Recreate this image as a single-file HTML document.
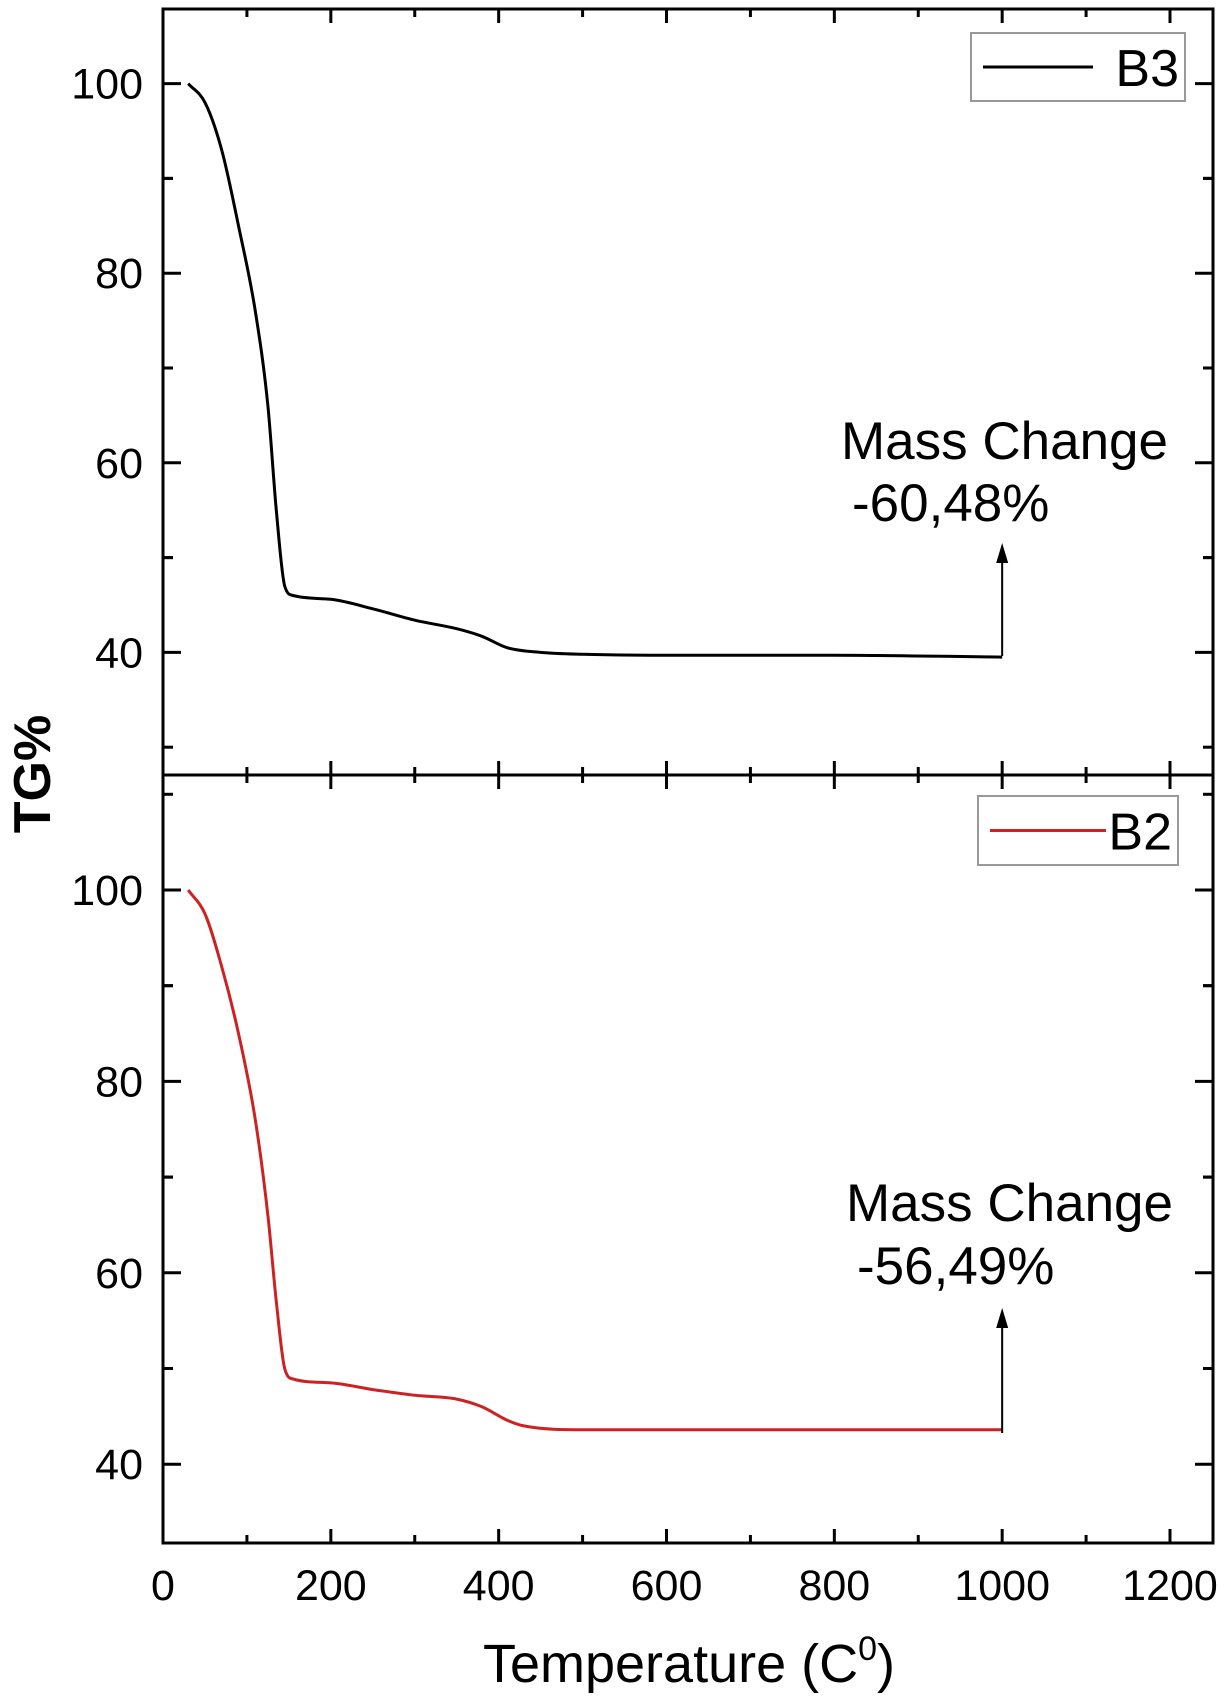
<!DOCTYPE html>
<html><head><meta charset="utf-8"><style>
html,body{margin:0;padding:0;background:#fff;}
svg{display:block;font-family:"Liberation Sans",Arial,sans-serif;}
</style></head><body>
<svg id="chart" width="1224" height="1703" viewBox="0 0 1224 1703" xmlns="http://www.w3.org/2000/svg">
<g id="g"></g>
</svg>
<script>
const xTicks = [0,200,400,600,800,1000,1200];
const yTicks = [40,60,80,100];
const b3Temp = [30,50,70,90,110,125,135,145,155,200,250,300,350,380,410,450,500,600,800,1000];
const b3TG   = [100,98,93,85,76,66,55,47,46,45.6,44.6,43.4,42.5,41.7,40.5,40,39.8,39.7,39.7,39.5];
const b2Temp = [30,50,70,90,110,125,135,145,155,200,250,300,350,380,410,430,500,1000];
const b2TG   = [100,97.5,92,85,76,66,57,50,48.9,48.5,47.8,47.2,46.8,46,44.6,44,43.6,43.6];
const annotTemp = [1000,1000];
const annotText = ["-60,48%","-56,49%"];

const NS="http://www.w3.org/2000/svg";
const g=document.getElementById('g');
function el(t,a,txt){const e=document.createElementNS(NS,t);for(const k in a)e.setAttribute(k,a[k]);if(txt!==undefined)e.textContent=txt;g.appendChild(e);return e;}
function smoothPath(px,py){
  const n=px.length,d=[],m=[];
  for(let i=0;i<n-1;i++)d.push((py[i+1]-py[i])/(px[i+1]-px[i]));
  m[0]=d[0];m[n-1]=d[n-2];
  for(let i=1;i<n-1;i++)m[i]=(d[i-1]*d[i]<=0)?0:(d[i-1]+d[i])/2;
  for(let i=0;i<n-1;i++){if(d[i]===0){m[i]=0;m[i+1]=0;continue;}
    const a=m[i]/d[i],b=m[i+1]/d[i],s=a*a+b*b;if(s>9){const t=3/Math.sqrt(s);m[i]=t*a*d[i];m[i+1]=t*b*d[i];}}
  let s='M'+px[0].toFixed(1)+','+py[0].toFixed(1);
  for(let i=0;i<n-1;i++){const h=(px[i+1]-px[i])/3;
    s+=` C${(px[i]+h).toFixed(1)},${(py[i]+m[i]*h).toFixed(1)} ${(px[i+1]-h).toFixed(1)},${(py[i+1]-m[i+1]*h).toFixed(1)} ${px[i+1].toFixed(1)},${py[i+1].toFixed(1)}`;}
  return s;
}
const L=163,R=1213,T=9,M=775,B=1543;
const xs=v=>L+v*(1170-163)/1200;
const panels=[
 {y:v=>83.6+(100-v)*9.48, top:T, bot:M, temp:b3Temp, tg:b3TG, color:"#000", name:"B3", lg:[971,33,214,68], ann:[841,459,852,521,543,656]},
 {y:v=>890+(100-v)*9.57, top:M, bot:B, temp:b2Temp, tg:b2TG, color:"#cc2222", name:"B2", lg:[978,796,200,69], ann:[846,1221,857,1284,1308,1433]}
];
panels.forEach((p,i)=>{
  xTicks.forEach(t=>{
    let e=el('line',{x1:xs(t),x2:xs(t),y1:p.bot,y2:p.bot-14,stroke:'#000','stroke-width':3});
    
    e=el('line',{x1:xs(t+100),x2:xs(t+100),y1:p.bot,y2:p.bot-8,stroke:'#000','stroke-width':3});
    
    e=el('line',{x1:xs(t),x2:xs(t),y1:p.top,y2:p.top+14,stroke:'#000','stroke-width':3});
    
    e=el('line',{x1:xs(t+100),x2:xs(t+100),y1:p.top,y2:p.top+8,stroke:'#000','stroke-width':3});
    
  });
  yTicks.forEach(t=>{
    const y=p.y(t);
    let e=el('line',{x1:L,x2:L+18,y1:y,y2:y,stroke:'#000','stroke-width':3});
    
    e=el('line',{x1:R,x2:R-18,y1:y,y2:y,stroke:'#000','stroke-width':3});
    
    [t-10,t+10].forEach(m=>{const ym=p.y(m);if(ym>p.top+3&&ym<p.bot-3){
      let f=el('line',{x1:L,x2:L+10,y1:ym,y2:ym,stroke:'#000','stroke-width':3});
      
      f=el('line',{x1:R,x2:R-10,y1:ym,y2:ym,stroke:'#000','stroke-width':3});
      }});
    e=el('text',{x:143,y:y+15,'text-anchor':'end','font-size':43,fill:'#000'},String(t));
    
  });
  const px=p.temp.map(xs), py=p.tg.map(p.y);
  let c=el('path',{d:smoothPath(px,py),fill:'none',stroke:p.color,'stroke-width':3,'stroke-linejoin':'round'});
  
  const [lx,ly,lw,lh]=p.lg;
  let lb=el('rect',{x:lx,y:ly,width:lw,height:lh,fill:'#fff',stroke:'#999','stroke-width':2});
  
  let ll=el('line',{x1:lx+12,x2:lx+(i?128:122),y1:ly+lh/2,y2:ly+lh/2,stroke:p.color,'stroke-width':3});
  
  let lt=el('text',{x:lx+lw-6,y:ly+lh/2+19,'text-anchor':'end','font-size':52,fill:'#000'},p.name);
  
  const a=p.ann, ax=xs(annotTemp[i]);
  let ar=el('path',{d:`M${ax},${a[5]} L${ax},${a[4]+14}`,fill:'none',stroke:'#000','stroke-width':2});
  
  let ah=el('path',{d:`M${ax},${a[4]} L${ax-6},${a[4]+20} L${ax+6},${a[4]+20} Z`,fill:'#000'});
  
  let t1=el('text',{x:a[0],y:a[1],'font-size':53,fill:'#000'},'Mass Change');
  
  let t2=el('text',{x:a[2],y:a[3],'font-size':53,fill:'#000'},annotText[i]);
  
});
let fr=el('rect',{x:L,y:T,width:R-L,height:B-T,fill:'none',stroke:'#000','stroke-width':3});

let dv=el('line',{x1:L,x2:R,y1:M,y2:M,stroke:'#000','stroke-width':3});

xTicks.forEach(t=>{
  const e=el('text',{x:xs(t),y:1600,'text-anchor':'middle','font-size':43,fill:'#000'},String(t));
  
});
let xt=el('text',{x:689,y:1682,'text-anchor':'middle','font-size':54,fill:'#000'},'Temperature (C');

const ts=document.createElementNS(NS,'tspan');ts.setAttribute('font-size',34);ts.setAttribute('dy',-22);ts.textContent='0';xt.appendChild(ts);
const ts2=document.createElementNS(NS,'tspan');ts2.setAttribute('dy',22);ts2.textContent=')';xt.appendChild(ts2);
let yt=el('text',{x:0,y:0,transform:'translate(50,774) rotate(-90)','text-anchor':'middle','font-size':52,'font-weight':'bold',fill:'#000'},'TG%');

</script>
</body></html>
